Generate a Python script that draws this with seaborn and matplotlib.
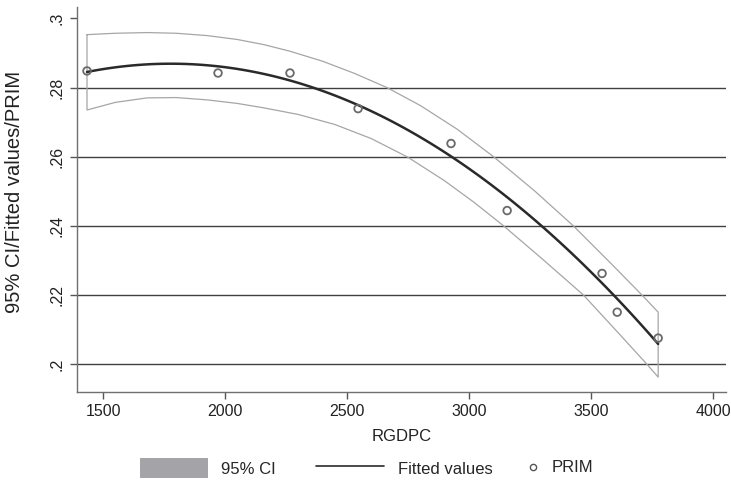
import numpy as np
import pandas as pd
import matplotlib
matplotlib.use("Agg")
import matplotlib.pyplot as plt
import seaborn as sns
from matplotlib.patches import Patch
from matplotlib.lines import Line2D

# data
rgdpc = [1434, 1971, 2266, 2545, 2926, 3156, 3545, 3607, 3775]
prim = [0.2848, 0.2842, 0.2842, 0.2739, 0.2638, 0.2444, 0.2262, 0.2150, 0.2075]

ci_upper_x = [1434, 1550, 1680, 1800, 1930, 2050, 2160, 2266, 2400, 2530, 2663,
              2800, 2950, 3100, 3270, 3427, 3580, 3708, 3775]
ci_upper_y = [0.2953, 0.2957, 0.2959, 0.2957, 0.2950, 0.2939, 0.2924, 0.2905, 0.2876,
              0.2841, 0.2800, 0.2748, 0.2680, 0.2600, 0.2500, 0.2400, 0.2292, 0.2200, 0.2150]
ci_lower_x = [1434, 1550, 1680, 1800, 1930, 2050, 2160, 2300, 2450, 2600, 2750,
              2900, 3020, 3141, 3300, 3468, 3600, 3728, 3775]
ci_lower_y = [0.2735, 0.2757, 0.2770, 0.2771, 0.2764, 0.2754, 0.2741, 0.2722, 0.2693,
              0.2652, 0.2598, 0.2530, 0.2468, 0.2400, 0.2304, 0.2200, 0.2099, 0.2000, 0.1962]

x_ticks = [1500, 2000, 2500, 3000, 3500, 4000]
y_ticks = [0.20, 0.22, 0.24, 0.26, 0.28, 0.30]
y_tick_labels = [".2", ".22", ".24", ".26", ".28", ".3"]
legend_labels = ["95% CI", "Fitted values", "PRIM"]

# quadratic fit of PRIM on RGDPC
x = np.array(rgdpc, float)
y = np.array(prim, float)
coef = np.polyfit(x, y, 2)
xg = np.linspace(x.min(), x.max(), 100)
fit = np.polyval(coef, xg)

sns.set_style("white")
plt.rcParams["font.family"] = ["Liberation Sans", "DejaVu Sans"]

fig = plt.figure(figsize=(7.31, 4.87), dpi=100)
ax = fig.add_axes([77 / 731, 1 - 392 / 487, (726 - 77) / 731, (392 - 7) / 487])

# CI band outline (upper curve, right edge, lower curve back, left edge)
band_x = ci_upper_x + ci_lower_x[::-1] + [ci_upper_x[0]]
band_y = ci_upper_y + ci_lower_y[::-1] + [ci_upper_y[0]]
ax.plot(band_x, band_y, color="#a6a6a6", lw=0.9, zorder=2)

df_fit = pd.DataFrame({"RGDPC": xg, "fit": fit})
sns.lineplot(data=df_fit, x="RGDPC", y="fit", ax=ax, color="#2a2a2a", lw=1.8, zorder=3)

df_pts = pd.DataFrame({"RGDPC": rgdpc, "PRIM": prim})
sns.scatterplot(data=df_pts, x="RGDPC", y="PRIM", ax=ax, marker="o", s=30,
                facecolor="none", edgecolor="#6a6a6a", linewidth=1.3, zorder=4)

for yt in y_ticks[:-1]:
    ax.axhline(yt, color="#404040", lw=1.0, zorder=1)

ax.set_xlim(1393, 4053)
ax.set_ylim(0.1919, 0.3033)
ax.set_xticks(x_ticks)
ax.set_xticklabels([str(t) for t in x_ticks], fontsize=11.5, color="#222222")
ax.set_yticks(y_ticks)
ax.set_yticklabels(y_tick_labels, fontsize=11.5, rotation=90, va="center", color="#222222")
ax.tick_params(axis="both", direction="out", length=5, width=1, color="#555555", pad=4)
ax.tick_params(bottom=True, left=True)
for side in ["top", "right"]:
    ax.spines[side].set_visible(False)
for side in ["left", "bottom"]:
    ax.spines[side].set_color("#707070")
    ax.spines[side].set_linewidth(1.0)
ax.set_xlabel("RGDPC", fontsize=12, color="#222222", labelpad=7)
ax.set_ylabel("95% CI/Fitted values/PRIM", fontsize=14.5, color="#222222")
ax.yaxis.set_label_coords(-0.082, 0.52)

h_ci = Patch(facecolor="#a3a3a8", edgecolor="none")
h_fit = Line2D([], [], color="#2a2a2a", lw=1.2)
h_pts = Line2D([], [], marker="o", ls="none", markersize=4.5, markerfacecolor="none",
               markeredgecolor="#555555", markeredgewidth=1.0)
leg_y = 1 - 468 / 487
leg1 = fig.legend([h_ci, h_fit], legend_labels[:2], loc="center left",
                  bbox_to_anchor=(133 / 731, leg_y), borderaxespad=0,
                  ncol=2, frameon=False, fontsize=12, handlelength=4.1, handleheight=1.45,
                  columnspacing=2.4, handletextpad=0.8)
leg2 = fig.legend([h_pts], legend_labels[2:], loc="center left",
                  bbox_to_anchor=(518 / 731, leg_y), borderaxespad=0,
                  frameon=False, fontsize=12, handlelength=1.0, handletextpad=0.6)

fig.savefig("out.png", dpi=100)
